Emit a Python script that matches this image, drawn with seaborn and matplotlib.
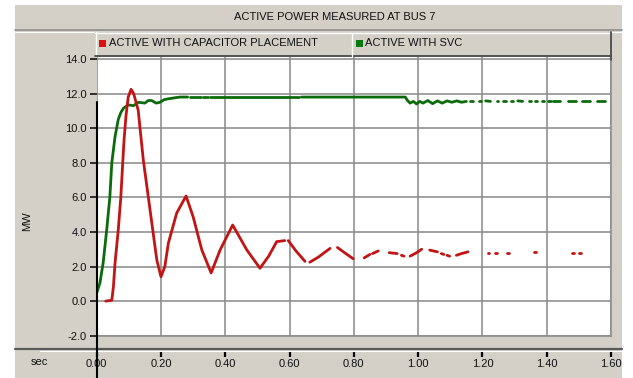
import numpy as np
import pandas as pd
import matplotlib
matplotlib.use("Agg")
import matplotlib.pyplot as plt
from matplotlib.patches import Rectangle
from matplotlib.lines import Line2D
import seaborn as sns

# ---------------- data ----------------
title = "ACTIVE POWER MEASURED AT BUS 7"
series_names = ["ACTIVE WITH CAPACITOR PLACEMENT", "ACTIVE WITH SVC"]
x_label = "sec"
y_label = "MW"
x_ticks = [0.0, 0.2, 0.4, 0.6, 0.8, 1.0, 1.2, 1.4, 1.6]
x_tick_labels = ["0.00", "0.20", "0.40", "0.60", "0.80", "1.00", "1.20", "1.40", "1.60"]
y_ticks = [-2, 0, 2, 4, 6, 8, 10, 12, 14]
y_tick_labels = ["-2.0", "0.0", "2.0", "4.0", "6.0", "8.0", "10.0", "12.0", "14.0"]

# capacitor placement (red) - segment id marks gaps in the recorded trace
red_t = [0.028, 0.047, 0.052, 0.057, 0.067, 0.075, 0.081, 0.085, 0.091, 0.098, 0.107,
         0.115, 0.129, 0.145, 0.166, 0.187, 0.200, 0.212, 0.223, 0.249, 0.278, 0.300,
         0.327, 0.356, 0.384, 0.423, 0.467, 0.508, 0.535, 0.560, 0.585,
         0.596, 0.620, 0.648,
         0.663, 0.690, 0.726,
         0.749, 0.775, 0.798,
         0.832, 0.850,
         0.858, 0.876,
         0.910, 0.935,
         0.948, 0.956,
         0.975, 0.995, 1.011,
         1.036, 1.060,
         1.072, 1.080,
         1.090, 1.098,
         1.119, 1.135, 1.155,
         1.216, 1.222,
         1.238, 1.244,
         1.278, 1.284,
         1.361, 1.367,
         1.478, 1.484,
         1.500, 1.506]
red_v = [0.0, 0.05, 0.83, 2.19, 4.1, 6.0, 8.0, 9.3, 10.7, 11.8, 12.25,
         12.0, 11.05, 8.16, 5.27, 2.38, 1.41, 2.0, 3.36, 5.1, 6.08, 4.88,
         2.96, 1.63, 2.96, 4.4, 2.96, 1.9, 2.6, 3.44, 3.5,
         3.5, 2.9, 2.3,
         2.25, 2.55, 3.05,
         3.1, 2.75, 2.45,
         2.5, 2.7,
         2.75, 2.9,
         2.8, 2.75,
         2.65, 2.6,
         2.6, 2.8, 3.0,
         2.95, 2.85,
         2.75, 2.7,
         2.65, 2.6,
         2.65, 2.75, 2.85,
         2.77, 2.77,
         2.77, 2.77,
         2.77, 2.77,
         2.84, 2.84,
         2.77, 2.77,
         2.77, 2.77]
red_seg = [0] * 31 + [1] * 3 + [2] * 3 + [3] * 3 + [4] * 2 + [5] * 2 + [6] * 2 + [7] * 2 \
          + [8] * 3 + [9] * 2 + [10] * 2 + [11] * 2 + [12] * 3 + [13] * 2 + [14] * 2 \
          + [15] * 2 + [16] * 2 + [17] * 2 + [18] * 2

# SVC (green)
green_t = [0.000, 0.010, 0.020, 0.031, 0.041, 0.047, 0.057, 0.067, 0.075, 0.083, 0.098,
           0.114, 0.130, 0.150, 0.160, 0.171, 0.185, 0.197, 0.210, 0.223, 0.240, 0.259, 0.283,
           0.290, 0.325,
           0.332, 0.345,
           0.352, 0.630,
           0.637, 0.960, 0.967, 0.975, 0.985, 0.995, 1.005, 1.015, 1.030, 1.045, 1.060,
           1.075, 1.090, 1.105, 1.120, 1.135, 1.150,
           1.160, 1.172,
           1.190, 1.196,
           1.210, 1.225,
           1.245, 1.250,
           1.265, 1.272,
           1.290, 1.296,
           1.310, 1.325,
           1.345, 1.350,
           1.365, 1.370,
           1.385, 1.392,
           1.405, 1.412,
           1.420, 1.440,
           1.465, 1.490,
           1.510, 1.535,
           1.555, 1.580]
green_v = [0.47, 1.05, 2.2, 4.1, 6.04, 8.0, 9.5, 10.5, 10.9, 11.15, 11.35,
           11.3, 11.5, 11.45, 11.6, 11.6, 11.45, 11.5, 11.65, 11.7, 11.75, 11.8, 11.8,
           11.8, 11.8,
           11.8, 11.8,
           11.8, 11.8,
           11.8, 11.8, 11.6, 11.45, 11.55, 11.4, 11.55, 11.45, 11.6, 11.42, 11.58,
           11.45, 11.58, 11.5, 11.58, 11.5, 11.55,
           11.55, 11.55,
           11.55, 11.55,
           11.58, 11.55,
           11.55, 11.55,
           11.55, 11.55,
           11.55, 11.55,
           11.58, 11.55,
           11.55, 11.55,
           11.55, 11.55,
           11.55, 11.55,
           11.55, 11.55,
           11.55, 11.55,
           11.55, 11.55,
           11.55, 11.55,
           11.55, 11.55]
green_seg = [0] * 23 + [1] * 2 + [2] * 2 + [3] * 2 + [4] * 17 + [5] * 2 + [6] * 2 + [7] * 2 \
            + [8] * 2 + [9] * 2 + [10] * 2 + [11] * 2 + [12] * 2 + [13] * 2 + [14] * 2 \
            + [15] * 2 + [16] * 2 + [17] * 2 + [18] * 2 + [19] * 2

red_color = "#C21414"
green_color = "#0B6B0B"

# ---------------- style ----------------
sns.set_style("white")
plt.rcParams["font.family"] = ["Liberation Sans", "DejaVu Sans"]
FS = 8

W, H = 633, 378
fig = plt.figure(figsize=(W / 100, H / 100), dpi=100, facecolor="white")


def fx(px):
    return px / W


def fy(py):
    return 1 - py / H


panel_gray = "#D4D0C8"

# background panel
fig.add_artist(Rectangle((fx(15), 0), fx(622) - fx(15), fy(5), transform=fig.transFigure,
                         facecolor=panel_gray, edgecolor="none", zorder=-5))
# title band separator
fig.add_artist(Line2D([fx(15), fx(622)], [fy(30), fy(30)], transform=fig.transFigure,
                      color="#8E8E8E", lw=1.2, zorder=2))
fig.add_artist(Line2D([fx(15), fx(622)], [fy(31.5), fy(31.5)], transform=fig.transFigure,
                      color="white", lw=0.8, zorder=2))
# x-axis band separator
fig.add_artist(Line2D([fx(15), fx(622)], [fy(349), fy(349)], transform=fig.transFigure,
                      color="#5A5A5A", lw=1.6, zorder=2))
fig.add_artist(Line2D([fx(40), fx(622)], [fy(351), fy(351)], transform=fig.transFigure,
                      color="white", lw=0.8, zorder=2))

# ---------------- main axes ----------------
ax = fig.add_axes([fx(96.7), fy(335.7), fx(611) - fx(96.7), (335.7 - 57.3) / H])
ax.set_facecolor("white")

df_red = pd.DataFrame({"t": red_t, "v": red_v, "seg": red_seg})
df_green = pd.DataFrame({"t": green_t, "v": green_v, "seg": green_seg})

sns.lineplot(data=df_green, x="t", y="v", units="seg", estimator=None, sort=False,
             color=green_color, lw=2.0, ax=ax, zorder=3)
sns.lineplot(data=df_red, x="t", y="v", units="seg", estimator=None, sort=False,
             color=red_color, lw=2.0, ax=ax, zorder=4)

ax.set_xlim(0, 1.6)
ax.set_ylim(-2, 14.1)
ax.set_xticks(x_ticks)
ax.set_yticks(y_ticks)
ax.set_yticklabels(y_tick_labels)
ax.grid(True, color="#8C8C8C", lw=1.15)
ax.set_xlabel("")
ax.set_ylabel("")
ax.tick_params(axis="x", length=0, labelbottom=False)
ax.tick_params(axis="y", left=True, length=5, width=1.1, color="black", pad=2,
               labelsize=FS, labelcolor="#111111")
for s in ["left", "top"]:
    ax.spines[s].set_visible(False)
for s in ["right", "bottom"]:
    ax.spines[s].set_color("#8C8C8C")
    ax.spines[s].set_linewidth(1.15)

# x tick band
axb = fig.add_axes([fx(96.7), fy(356), fx(611) - fx(96.7), 5 / H])
axb.set_xlim(0, 1.6)
axb.patch.set_visible(False)
for s in axb.spines.values():
    s.set_visible(False)
axb.set_yticks([])
axb.set_xticks(x_ticks)
axb.set_xticklabels(x_tick_labels)
axb.tick_params(axis="x", top=True, bottom=False, direction="in", length=4.5, width=1.6,
                color="black", labelbottom=True, labeltop=False, labelsize=FS, pad=2,
                labelcolor="#111111")

# black vertical axis line
fig.add_artist(Line2D([fx(96.7), fx(96.7)], [fy(102), 0], transform=fig.transFigure,
                      color="black", lw=1.5, zorder=6))

# legend bar
fig.add_artist(Rectangle((fx(95), fy(56)), fx(611) - fx(95), fy(32) - fy(56),
                         transform=fig.transFigure, facecolor=panel_gray, edgecolor="none", zorder=3))
fig.add_artist(Line2D([fx(95), fx(611)], [fy(32.5), fy(32.5)], transform=fig.transFigure,
                      color="white", lw=1.0, zorder=4))
fig.add_artist(Line2D([fx(95.5), fx(95.5)], [fy(32), fy(56)], transform=fig.transFigure,
                      color="white", lw=1.0, zorder=4))
fig.add_artist(Line2D([fx(95), fx(611)], [fy(56), fy(56)], transform=fig.transFigure,
                      color="#4A4A4A", lw=1.3, zorder=4))
fig.add_artist(Line2D([fx(610.5), fx(610.5)], [fy(32), fy(60)], transform=fig.transFigure,
                      color="#4A4A4A", lw=1.3, zorder=4))
fig.add_artist(Line2D([fx(351.7), fx(351.7)], [fy(33), fy(55.5)], transform=fig.transFigure,
                      color="white", lw=1.0, zorder=4))

for (x0, color, name) in [(99, "#E01010", series_names[0]), (356, "#0A780A", series_names[1])]:
    fig.add_artist(Rectangle((fx(x0), fy(46.5)), fx(7), fy(39.5) - fy(46.5),
                             transform=fig.transFigure, facecolor=color, edgecolor="none", zorder=5))
    fig.text(fx(x0 + 9.5), fy(43.3), name, ha="left", va="center", fontsize=FS,
             color="#111111", zorder=5)

# title and axis labels
fig.text(fx(335), fy(17), title, ha="center", va="center", fontsize=FS, color="#111111")
fig.text(fx(27), fy(221), y_label, ha="center", va="center", rotation=90, fontsize=FS,
         color="#111111")
fig.text(fx(39), fy(362), x_label, ha="center", va="center", fontsize=FS, color="#111111")

fig.savefig("out.png", dpi=100, facecolor=fig.get_facecolor())
